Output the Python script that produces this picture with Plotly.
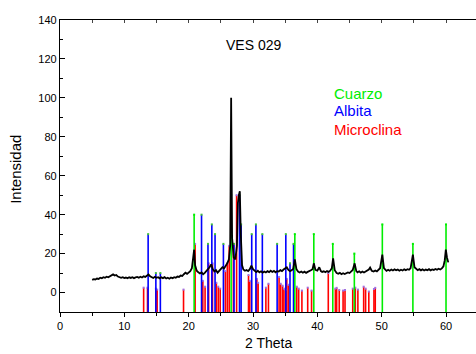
import plotly.graph_objects as go

# ---- measured diffraction pattern (2-theta, intensity) ----
theta = [5.00,5.25,5.50,5.75,6.00,6.25,6.50,6.75,7.00,7.25,7.50,7.75,8.00,8.25,8.50,8.75,
         9.00,9.25,9.50,9.75,10.00,10.25,10.50,10.75,11.00,11.25,11.50,11.75,12.00,12.25,12.50,12.75,
         13.00,13.25,13.50,13.75,14.00,14.25,14.50,14.75,15.00,15.25,15.50,15.75,16.00,16.25,16.50,16.75,
         17.00,17.25,17.50,17.75,18.00,18.25,18.50,18.75,19.00,19.25,19.50,19.75,20.00,20.25,20.50,20.70,
         20.85,21.00,21.25,21.50,21.75,22.00,22.25,22.50,22.75,23.00,23.25,23.50,23.75,24.00,24.25,24.50,
         24.75,25.00,25.25,25.50,25.75,26.00,26.25,26.45,26.60,26.75,27.00,27.25,27.50,27.65,27.80,27.95,
         28.10,28.30,28.50,28.75,29.00,29.25,29.50,29.75,30.00,30.25,30.50,30.75,31.00,31.25,31.50,31.75,
         32.00,32.25,32.50,32.75,33.00,33.25,33.50,33.75,34.00,34.25,34.50,34.75,35.00,35.25,35.50,35.75,
         36.00,36.25,36.50,36.75,37.00,37.25,37.50,37.75,38.00,38.25,38.50,38.75,39.00,39.25,39.45,39.70,
         40.00,40.30,40.55,40.75,41.00,41.25,41.50,41.75,42.00,42.25,42.45,42.70,43.00,43.25,43.50,43.75,
         44.00,44.25,44.50,44.75,45.00,45.25,45.50,45.80,46.05,46.25,46.50,46.75,47.00,47.25,47.50,47.75,
         48.00,48.20,48.45,48.75,49.00,49.25,49.50,49.75,50.10,50.35,50.60,50.75,51.00,51.25,51.50,51.75,
         52.00,52.25,52.50,52.75,53.00,53.25,53.50,53.75,54.00,54.25,54.50,54.85,55.10,55.35,55.60,55.85,
         56.10,56.35,56.60,56.85,57.10,57.35,57.60,57.85,58.10,58.35,58.60,58.85,59.10,59.35,59.60,59.80,
         59.97,60.15,60.35]
intensity = [6.5,6.9,6.7,7.2,7.0,7.6,7.3,7.9,7.6,8.1,7.8,8.3,8.6,9.3,8.7,9.0,
             8.2,8.0,7.6,7.9,7.4,7.7,7.3,7.8,7.5,7.9,7.4,7.8,8.0,7.6,8.1,7.7,
             8.3,8.0,8.6,9.3,8.4,8.0,7.5,8.1,7.6,7.9,7.3,7.8,7.4,7.9,7.2,7.6,
             7.1,7.7,7.3,7.9,7.6,8.2,8.0,8.7,8.5,9.4,10.2,9.6,10.3,11.0,12.5,17.0,
             22.0,14.0,11.2,10.4,9.8,10.3,9.4,10.1,11.0,12.2,13.0,14.5,12.0,10.8,11.5,10.2,
             11.0,11.8,13.0,12.4,13.6,15.0,17.0,24.0,100.0,28.0,18.0,17.0,24.0,46.0,50.0,52.0,
             30.0,14.0,11.8,11.2,11.6,11.0,12.0,13.8,12.0,11.1,10.5,11.2,10.4,10.9,10.2,10.8,
             10.3,11.0,10.5,11.2,10.6,11.1,10.4,11.0,10.8,11.5,11.0,11.8,12.4,13.0,11.6,11.0,
             11.4,12.2,17.0,12.0,10.8,10.3,10.8,10.2,10.7,10.1,10.6,10.9,11.4,12.0,15.0,11.6,
             11.2,13.0,11.0,10.6,10.9,10.4,11.0,10.6,11.2,12.5,17.5,11.5,10.0,9.6,10.1,9.4,
             9.9,9.5,10.0,10.3,10.0,10.7,11.6,15.0,11.0,10.4,10.9,10.2,10.8,10.3,10.9,11.2,
             11.8,12.8,11.2,10.8,11.3,10.9,11.5,12.5,19.5,12.5,11.6,11.1,11.7,11.2,11.8,11.3,
             11.9,11.4,11.8,11.2,11.7,11.3,11.9,11.5,12.0,11.7,12.6,19.5,13.0,12.0,11.5,12.0,
             11.4,11.9,11.3,11.8,11.5,12.0,11.4,11.9,11.6,12.1,11.7,12.2,11.8,12.4,13.5,16.5,
             22.0,18.0,15.5]

# ---- reference stick patterns ----
cuarzo_pos = [20.85, 26.6, 36.5, 39.45, 42.4, 45.75, 50.1, 54.85, 60.0]
cuarzo_int = [40, 50, 30, 30, 25, 20, 35, 25, 35]

albita_pos = [13.7, 14.9, 15.6, 22.0, 23.0, 23.6, 24.1, 25.4, 27.05, 27.9, 28.15,
              29.8, 30.45, 31.45, 33.75, 35.1, 35.75, 36.3]
albita_int = [30, 10, 10, 40, 25, 35, 30, 25, 25, 50, 35,
              30, 35, 30, 25, 30, 15, 25]

micro_pos = [13.0, 13.6, 14.9, 15.1, 19.2, 21.0, 22.2, 22.55, 23.1, 23.7, 24.3, 24.6, 24.9,
             25.7, 26.0, 26.3, 26.95, 27.45, 29.3, 29.5, 30.6, 30.8, 32.0, 32.4, 34.05, 34.3,
             34.6, 34.8, 35.05, 35.25, 35.5, 36.8, 37.1, 37.6, 38.5, 39.1, 41.7, 42.8, 43.0,
             43.4, 44.0, 44.3, 45.5, 45.9, 46.3, 47.2, 47.5, 48.0, 48.8, 49.0]
micro_int = [2.5, 2.5, 2, 1.5, 1.5, 25, 6, 3, 15, 15, 5, 3, 2,
             11, 15, 24, 25, 50, 9, 6, 7, 5, 2.5, 4.5, 8, 4.5,
             3.5, 2, 1.5, 7, 4, 3, 2, 1, 2.5, 1, 10, 2, 2.4,
             1.3, 1, 1.3, 2, 2.5, 1.5, 3, 2, 0.5, 1.8, 2.4]

title_text = "VES 029"
x_title = "2 Theta"
y_title = "Intensidad"
legend_names = ["Cuarzo", "Albita", "Microclina"]

Y_BASE = -10
FONT = "Liberation Sans, Arial, sans-serif"
GREEN, BLUE, RED = "#00ee00", "#0000ff", "#ff0000"


def sticks(pos, vals):
    xs, ys = [], []
    for p, v in zip(pos, vals):
        xs += [p, p, None]
        ys += [Y_BASE, v, None]
    return xs, ys


fig = go.Figure()

for pos, vals, col, cap in [(micro_pos, micro_int, RED, "#a070e0"),
                            (albita_pos, albita_int, BLUE, "#40c040"),
                            (cuarzo_pos, cuarzo_int, GREEN, GREEN)]:
    xs, ys = sticks(pos, vals)
    fig.add_trace(go.Scatter(x=xs, y=ys, mode="lines",
                             line=dict(color=col, width=1.6),
                             hoverinfo="skip", showlegend=False))
    fig.add_trace(go.Scatter(x=pos, y=vals, mode="markers",
                             marker=dict(color=cap, size=2, symbol="square"),
                             hoverinfo="skip", showlegend=False))

fig.add_trace(go.Scatter(x=theta, y=intensity, mode="lines",
                         line=dict(color="black", width=1.8),
                         showlegend=False))

# invisible trace to activate the top axis
fig.add_trace(go.Scatter(x=[theta[0]], y=[intensity[0]], xaxis="x2", mode="markers",
                         marker=dict(opacity=0), hoverinfo="skip", showlegend=False))

XMAX = 64.66
fig.update_layout(
    width=476, height=354,
    margin=dict(l=60, r=0, t=20, b=42, autoexpand=False),
    paper_bgcolor="white", plot_bgcolor="white",
    font=dict(family=FONT, size=11, color="black"),
    xaxis=dict(range=[0, XMAX], showgrid=False, zeroline=False, automargin=False,
               showline=True, linecolor="black", linewidth=1.3,
               ticks="outside", ticklen=4, tickwidth=1, tickcolor="black",
               tick0=0, dtick=10,
               minor=dict(ticks="outside", ticklen=3, dtick=5, tickcolor="black", showgrid=False),
               tickfont=dict(size=11)),
    xaxis2=dict(range=[0, XMAX], overlaying="x", side="top", showgrid=False, zeroline=False,
                automargin=False,
                showline=True, linecolor="black", linewidth=1.3,
                ticks="inside", ticklen=3, tick0=0, dtick=5, tickcolor="#444",
                showticklabels=False),
    yaxis=dict(range=[-10, 140], showgrid=False, zeroline=False, automargin=False,
               showline=True, linecolor="black", linewidth=1.3,
               ticks="inside", ticklen=5, tickcolor="black",
               tick0=0, dtick=20,
               minor=dict(ticks="inside", ticklen=3, dtick=10, tickcolor="black", showgrid=False),
               tickfont=dict(size=11)),
    annotations=[
        dict(x=0.5, y=-0.106, xref="paper", yref="paper", text=x_title, showarrow=False,
             font=dict(size=14), xanchor="center", yanchor="middle"),
        dict(x=-0.106, y=0.49, xref="paper", yref="paper", text=y_title, showarrow=False,
             textangle=-90, font=dict(size=15), xanchor="center", yanchor="middle"),
        dict(x=30.0, y=127.0, xref="x", yref="y", text=title_text, showarrow=False,
             font=dict(size=14, color="black"), xanchor="center", yanchor="middle"),
        dict(x=42.2, y=102.2, xref="x", yref="y", text=legend_names[0], showarrow=False,
             font=dict(size=15, color=GREEN), xanchor="left", yanchor="middle"),
        dict(x=42.2, y=93.5, xref="x", yref="y", text=legend_names[1], showarrow=False,
             font=dict(size=15, color=BLUE), xanchor="left", yanchor="middle"),
        dict(x=42.2, y=84.0, xref="x", yref="y", text=legend_names[2], showarrow=False,
             font=dict(size=15, color=RED), xanchor="left", yanchor="middle"),
    ],
)

fig.write_html("out.html", config={"displayModeBar": False},
               post_script="document.body.style.margin='0';document.body.style.overflow='hidden';")
